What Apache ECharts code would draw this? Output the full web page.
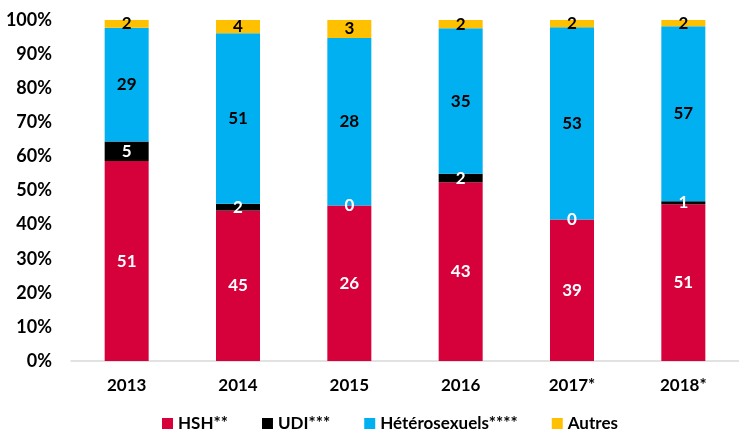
<!DOCTYPE html>
<html>
<head>
<meta charset="utf-8">
<script src="https://cdn.jsdelivr.net/npm/echarts@6/dist/echarts.min.js"></script>
<style>
  html, body { margin: 0; padding: 0; background: #fff; }
  #main { width: 739px; height: 437px; }
</style>
</head>
<body>
<div id="main"></div>
<script>
const annees = ['2013', '2014', '2015', '2016', '2017*', '2018*'];
const hsh = [51, 45, 26, 43, 39, 51];
const udi = [5, 2, 0, 2, 0, 1];
const hetero = [29, 51, 28, 35, 53, 57];
const autres = [2, 4, 3, 2, 2, 2];

const totaux = annees.map((a, i) => hsh[i] + udi[i] + hetero[i] + autres[i]);
const pct = arr => arr.map((v, i) => ({ value: v / totaux[i] * 100, brut: v }));

const police = 'Lato, "Open Sans", sans-serif';

function serie(nom, arr, couleur, couleurTexte) {
    return {
        name: nom,
        type: 'bar',
        stack: 'total',
        barWidth: 44,
        data: pct(arr),
        itemStyle: { color: couleur },
        label: {
            show: true,
            position: 'inside',
            color: couleurTexte,
            fontFamily: police,
            fontWeight: 'bold',
            fontSize: 17,
            formatter: p => p.data.brut
        }
    };
}

const chart = echarts.init(document.getElementById('main'));
chart.setOption({
    animation: false,
    textStyle: { fontFamily: police },
    grid: { left: 71, right: -5, top: 20, bottom: 76 },
    legend: {
        bottom: 0,
        left: 157,
        itemWidth: 11,
        itemHeight: 11,
        itemGap: 34,
        icon: 'rect',
        textStyle: { fontFamily: police, fontWeight: 'bold', fontSize: 17, color: '#000' },
        data: ['HSH**', 'UDI***', 'Hétérosexuels****', 'Autres']
    },
    xAxis: {
        type: 'category',
        data: annees,
        axisLine: { lineStyle: { color: '#d9d9d9', width: 1.5 } },
        axisTick: { show: false },
        axisLabel: { color: '#000', fontWeight: 'bold', fontSize: 17, margin: 16, fontFamily: police }
    },
    yAxis: {
        type: 'value',
        min: 0,
        max: 100,
        interval: 10,
        splitLine: { show: false },
        axisLine: { show: false },
        axisLabel: { color: '#000', fontWeight: 'bold', fontSize: 18, margin: 19, formatter: '{value}%', fontFamily: police }
    },
    series: [
        serie('HSH**', hsh, '#d6003b', '#fff'),
        serie('UDI***', udi, '#000000', '#fff'),
        serie('Hétérosexuels****', hetero, '#00b0f0', '#000'),
        serie('Autres', autres, '#ffc000', '#000')
    ]
});
</script>
</body>
</html>
